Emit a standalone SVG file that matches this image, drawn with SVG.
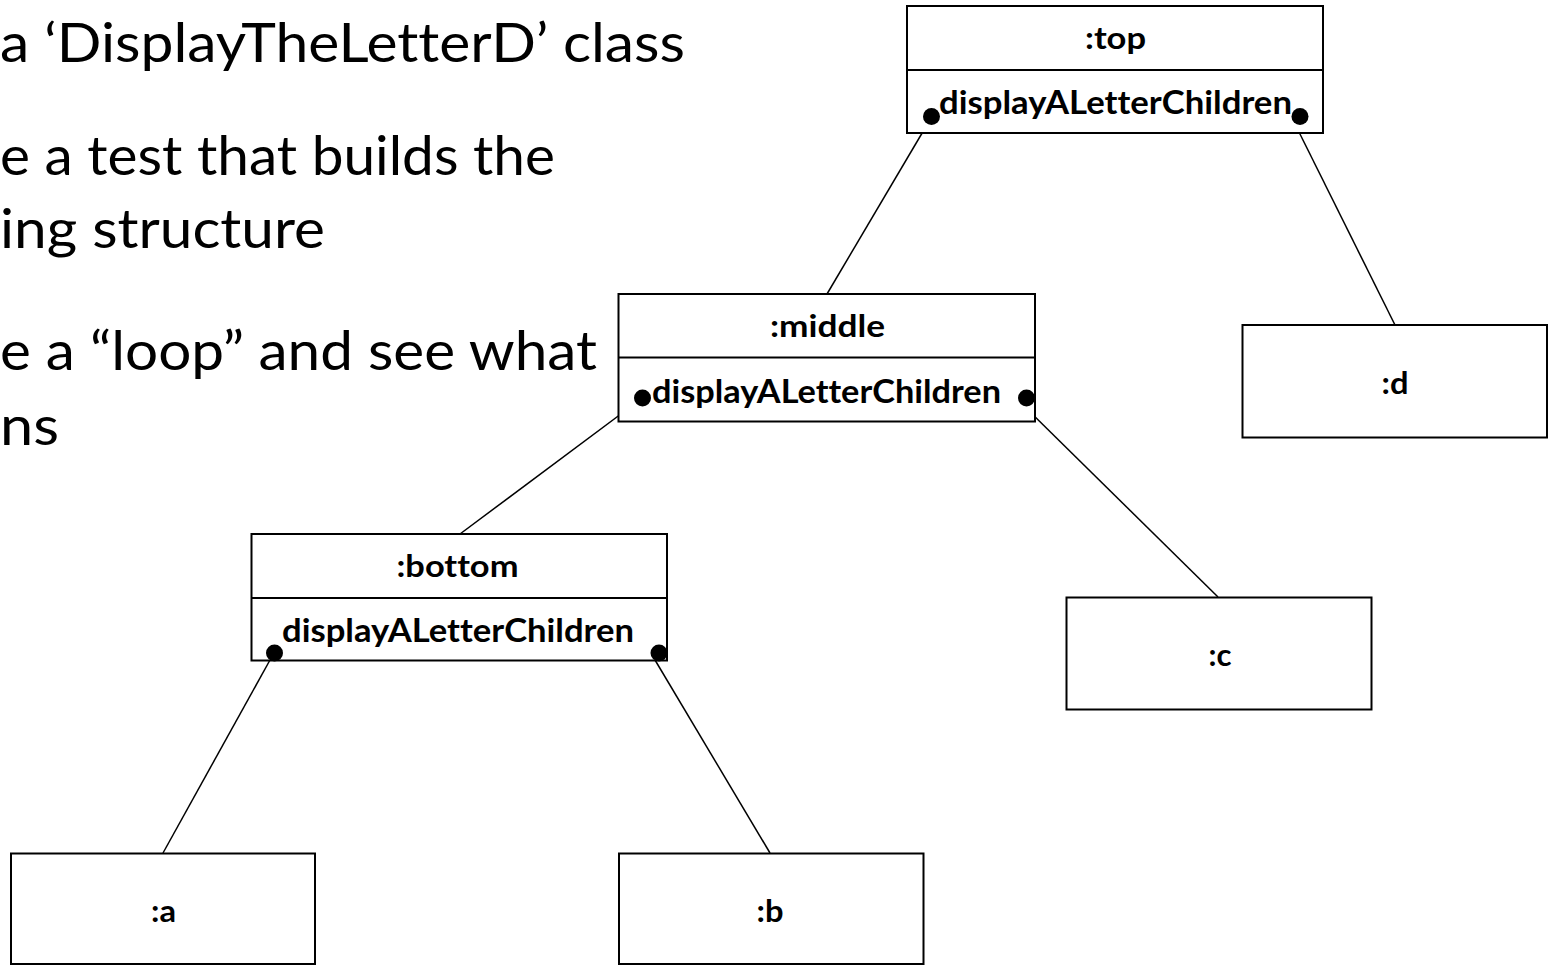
<svg xmlns="http://www.w3.org/2000/svg" width="1551" height="965" viewBox="0 0 1551 965">
<style>
.bg{fill:#ffffff}
.box{fill:#ffffff;stroke:#000000;stroke-width:2}
.sep{stroke:#000000;stroke-width:2}
.link{stroke:#000000;stroke-width:1.5;fill:none}
.dot{fill:#000000}
text{font-variant-ligatures:none;font-feature-settings:"liga" 0,"clig" 0}
.bullet{font-family:Lato,"Open Sans","Liberation Sans",sans-serif;font-size:54px;fill:#000000}
.lbl{font-family:Lato,"Open Sans","Liberation Sans",sans-serif;font-size:30px;font-weight:bold;fill:#000000;text-anchor:middle}
.op{font-family:Lato,"Open Sans","Liberation Sans",sans-serif;font-size:33px;font-weight:bold;fill:#000000}
</style>
<rect class="bg" x="0" y="0" width="1551" height="965"/>
<g id="bullets">
<text class="bullet" x="0" y="62" textLength="685" lengthAdjust="spacingAndGlyphs">a ‘DisplayTheLetterD’ class</text>
<text class="bullet" x="0" y="175" textLength="555" lengthAdjust="spacingAndGlyphs">e a test that builds the</text>
<text class="bullet" x="0" y="248" textLength="325" lengthAdjust="spacingAndGlyphs">ing structure</text>
<text class="bullet" x="0" y="370" textLength="597" lengthAdjust="spacingAndGlyphs">e a “loop” and see what</text>
<text class="bullet" x="0" y="445" textLength="59" lengthAdjust="spacingAndGlyphs">ns</text>
</g>
<g id="connectors">
<line class="link" x1="931" y1="118" x2="827" y2="294"/>
<line class="link" x1="1294" y1="122" x2="1395" y2="325"/>
<line class="link" x1="637" y1="402" x2="460" y2="534"/>
<line class="link" x1="1023" y1="405" x2="1218" y2="597"/>
<line class="link" x1="270" y1="660" x2="163" y2="853"/>
<line class="link" x1="655" y1="660" x2="770" y2="853"/>
</g>
<g id="node-top">
<rect class="box" x="907" y="6" width="416" height="127"/>
<line class="sep" x1="907" y1="70" x2="1323" y2="70"/>
<text class="lbl" x="1115.5" y="49" textLength="61" lengthAdjust="spacingAndGlyphs">:top</text>
<text class="op" x="939" y="114" textLength="353" lengthAdjust="spacingAndGlyphs">displayALetterChildren</text>
<circle class="dot" cx="931.5" cy="116.5" r="8.5"/>
<circle class="dot" cx="1300" cy="116.5" r="8.5"/>
</g>
<g id="node-middle">
<rect class="box" x="618.5" y="294" width="416.5" height="127.5"/>
<line class="sep" x1="618.5" y1="357.5" x2="1035" y2="357.5"/>
<text class="lbl" x="827.5" y="337" textLength="115" lengthAdjust="spacingAndGlyphs">:middle</text>
<text class="op" x="652" y="403" textLength="349" lengthAdjust="spacingAndGlyphs">displayALetterChildren</text>
<circle class="dot" cx="642.5" cy="398" r="8.5"/>
<circle class="dot" cx="1026.5" cy="398" r="8.5"/>
</g>
<g id="node-bottom">
<rect class="box" x="251.5" y="534" width="415.5" height="126.5"/>
<line class="sep" x1="251.5" y1="598" x2="667" y2="598"/>
<text class="lbl" x="457.5" y="577" textLength="122" lengthAdjust="spacingAndGlyphs">:bottom</text>
<text class="op" x="282" y="641.5" textLength="352" lengthAdjust="spacingAndGlyphs">displayALetterChildren</text>
<circle class="dot" cx="274.5" cy="653" r="8.5"/>
<circle class="dot" cx="659" cy="653" r="8.5"/>
</g>
<g id="node-d">
<rect class="box" x="1242.5" y="325" width="304.5" height="112.5"/>
<text class="lbl" x="1395" y="394" textLength="27" lengthAdjust="spacingAndGlyphs">:d</text>
</g>
<g id="node-c">
<rect class="box" x="1066.5" y="597.5" width="305" height="112"/>
<text class="lbl" x="1220" y="666" textLength="23" lengthAdjust="spacingAndGlyphs">:c</text>
</g>
<g id="node-a">
<rect class="box" x="11" y="853.5" width="304" height="110.5"/>
<text class="lbl" x="163.5" y="922" textLength="25" lengthAdjust="spacingAndGlyphs">:a</text>
</g>
<g id="node-b">
<rect class="box" x="619" y="853.5" width="304.5" height="110.5"/>
<text class="lbl" x="770" y="922" textLength="27" lengthAdjust="spacingAndGlyphs">:b</text>
</g>
</svg>
